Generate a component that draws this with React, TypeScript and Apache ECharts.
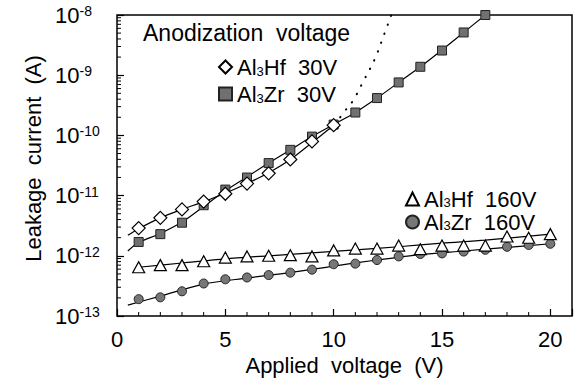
import React, { useEffect, useRef } from "react";
import * as echarts from "echarts";

const FONT = '"Liberation Sans", Arial, Helvetica, sans-serif';

// Measured points (x = applied voltage in V, y = log10 of leakage current in A)
const voltsHf30 = [1, 2, 3, 4, 5, 6, 7, 8, 9, 10];
const expHf30 = [-11.54, -11.37, -11.23, -11.1, -10.97, -10.8, -10.63, -10.4, -10.1, -9.83];

const voltsZr30 = [1, 2, 3, 4, 5, 6, 7, 8, 9, 10, 11, 12, 13, 14, 15, 16, 17];
const expZr30 = [-11.77, -11.64, -11.45, -11.16, -10.9, -10.7, -10.46, -10.24, -10.02, -9.82, -9.62, -9.38, -9.12, -8.86, -8.59, -8.29, -8.0];

const volts160 = [1, 2, 3, 4, 5, 6, 7, 8, 9, 10, 11, 12, 13, 14, 15, 16, 17, 18, 19, 20];
const expHf160 = [-12.19, -12.155, -12.155, -12.09, -12.03, -12.01, -12.0, -11.99, -12.01, -11.91, -11.88, -11.88, -11.83, -11.89, -11.83, -11.83, -11.83, -11.68, -11.7, -11.64];
const expZr160 = [-12.72, -12.69, -12.59, -12.46, -12.39, -12.36, -12.32, -12.28, -12.23, -12.14, -12.13, -12.07, -12.01, -11.97, -11.96, -11.93, -11.9, -11.85, -11.82, -11.8];

// Fitted curves drawn through the data
const fitHf30X = [0.5, 1, 2, 3, 4, 5, 6, 7, 8, 9, 10];
const fitHf30E = [-11.66, -11.55, -11.37, -11.23, -11.1, -10.96, -10.8, -10.62, -10.4, -10.12, -9.83];
const fitZr30X = [0.5, 1, 2, 3, 4, 5, 6, 7, 8, 9, 10, 11, 12, 13, 14, 15, 16, 17];
const fitZr30E = [-11.92, -11.78, -11.63, -11.44, -11.18, -10.92, -10.69, -10.46, -10.24, -10.02, -9.82, -9.62, -9.38, -9.12, -8.86, -8.58, -8.29, -8.0];
const fitHf160X = [1, 3, 5, 7, 9, 11, 13, 15, 17, 20];
const fitHf160E = [-12.19, -12.12, -12.05, -12.0, -11.95, -11.9, -11.85, -11.79, -11.74, -11.64];
const fitZr160X = [0.5, 2, 4, 6, 8, 10, 12, 14, 16, 18, 20];
const fitZr160E = [-12.82, -12.67, -12.47, -12.37, -12.28, -12.17, -12.07, -11.98, -11.92, -11.86, -11.8];
const dotX = [10.3, 10.43, 10.86, 11.4, 11.9, 12.27, 12.66];
const dotE = [-9.7, -9.63, -9.44, -9.08, -8.73, -8.38, -8.0];

// Axis ticks
const xTickLabels = [0, 5, 10, 15, 20];
const xMinorTicks = [1, 2, 3, 4, 6, 7, 8, 9, 11, 12, 13, 14, 16, 17, 18, 19];
const yDecades = [-13, -12, -11, -10, -9];
const yMinorMultipliers = [2, 3, 4, 5, 6, 7, 8, 9];

const pairs = (xs: number[], es: number[]) => xs.map((x, i) => [x, Math.pow(10, es[i])]);

const sub = (name: string) => {
  const m = name.match(/^Al3(\w+)\s+(\S+)$/);
  if (!m) return name;
  return `{a|Al}{s|3}{a|${m[1]}  ${m[2]}}`;
};

export default function App() {
  const ref = useRef<HTMLDivElement>(null);
  useEffect(() => {
    if (!ref.current) return;
    const chart = echarts.init(ref.current, undefined, { renderer: "svg" });

    const yMinor: number[][] = [];
    yDecades.forEach((d) => yMinorMultipliers.forEach((k) => yMinor.push([0, k * Math.pow(10, d)])));
    const xMinor = xMinorTicks.map((x) => [x, 1e-13]);

    const fitStyle = { color: "#000", width: 1.2 };
    const fitLine = (x: number[], e: number[]) => ({
      type: "line",
      data: pairs(x, e),
      symbol: "none",
      smooth: 0.3,
      silent: true,
      lineStyle: fitStyle,
      z: 2,
    });

    const legendText = (lh: number) => ({
      fontSize: 22,
      fontFamily: FONT,
      color: "#000",
      rich: {
        a: { fontSize: 22, fontFamily: FONT, color: "#000", lineHeight: lh },
        s: { fontSize: 13, fontFamily: FONT, color: "#000", lineHeight: 13, verticalAlign: "bottom" },
      },
    });

    chart.setOption({
      animation: false,
      backgroundColor: "#fff",
      grid: {
        left: 117,
        right: 8,
        top: 15,
        bottom: 69,
        show: true,
        borderColor: "#000",
        borderWidth: 1.5,
      },
      xAxis: {
        type: "value",
        min: 0,
        max: 21,
        interval: 5,
        axisLine: { show: false },
        splitLine: { show: false },
        axisTick: { inside: true, length: 7, lineStyle: { color: "#000", width: 1.2 } },
        axisLabel: {
          margin: 12,
          fontSize: 22,
          fontFamily: FONT,
          color: "#000",
          formatter: (v: number) => (xTickLabels.includes(v) ? String(v) : ""),
        },
        name: "Applied  voltage  (V)",
        nameLocation: "middle",
        nameGap: 35,
        nameTextStyle: { fontSize: 22, fontFamily: FONT, color: "#000" },
      },
      yAxis: {
        type: "log",
        logBase: 10,
        min: 1e-13,
        max: 1e-8,
        splitNumber: 5,
        axisLine: { show: false },
        splitLine: { show: false },
        axisTick: { inside: true, length: 7, lineStyle: { color: "#000", width: 1.2 } },
        axisLabel: {
          margin: 62,
          align: "left",
          formatter: (v: number) => `{b|10}{s|${Math.round(Math.log10(v))}}`,
          rich: {
            b: { fontSize: 22, fontFamily: FONT, color: "#000" },
            s: { fontSize: 14, fontFamily: FONT, color: "#000", verticalAlign: "top" },
          },
        },
        name: "Leakage  current  (A)",
        nameLocation: "middle",
        nameRotate: 90,
        nameGap: 68,
        nameTextStyle: { fontSize: 22, fontFamily: FONT, color: "#000", padding: [0, 0, 0, 14] },
      },
      legend: [
        {
          data: ["Al3Hf 30V", "Al3Zr 30V"],
          orient: "vertical",
          left: 213,
          top: 51,
          itemWidth: 13,
          itemHeight: 13,
          itemGap: 5,
          formatter: sub,
          textStyle: legendText(22),
          selectedMode: false,
        },
        {
          data: ["Al3Hf 160V", "Al3Zr 160V"],
          orient: "vertical",
          left: 400,
          top: 183,
          itemWidth: 13,
          itemHeight: 13,
          itemGap: 1,
          formatter: sub,
          textStyle: legendText(20),
          selectedMode: false,
        },
      ],
      graphic: [
        {
          type: "text",
          left: 143,
          top: 21,
          style: { text: "Anodization  voltage", fontSize: 23, fontFamily: FONT, fill: "#000" },
        },
      ],
      series: [
        fitLine(fitHf30X, fitHf30E),
        fitLine(fitZr30X, fitZr30E),
        fitLine(fitHf160X, fitHf160E),
        fitLine(fitZr160X, fitZr160E),
        {
          type: "line",
          data: pairs(dotX, dotE),
          symbol: "none",
          smooth: 0.4,
          silent: true,
          lineStyle: { color: "#000", width: 2, type: [0.5, 9], cap: "round" },
          z: 2,
        },
        {
          name: "Al3Hf 30V",
          type: "scatter",
          data: pairs(voltsHf30, expHf30),
          symbol: "diamond",
          symbolSize: 13,
          itemStyle: { color: "#fff", borderColor: "#000", borderWidth: 1.2, opacity: 1 },
          z: 4,
        },
        {
          name: "Al3Zr 30V",
          type: "scatter",
          data: pairs(voltsZr30, expZr30),
          symbol: "rect",
          symbolSize: 9,
          itemStyle: { color: "#707070", borderColor: "#222", borderWidth: 1, opacity: 1 },
          z: 3,
        },
        {
          name: "Al3Hf 160V",
          type: "scatter",
          data: pairs(volts160, expHf160),
          symbol: "triangle",
          symbolSize: [12, 11],
          itemStyle: { color: "#fff", borderColor: "#000", borderWidth: 1.2, opacity: 1 },
          z: 4,
        },
        {
          name: "Al3Zr 160V",
          type: "scatter",
          data: pairs(volts160, expZr160),
          symbol: "circle",
          symbolSize: 9,
          itemStyle: { color: "#777", borderColor: "#222", borderWidth: 1, opacity: 1 },
          z: 3,
        },
        {
          type: "custom",
          silent: true,
          data: yMinor,
          renderItem: (_p: any, api: any) => {
            const pt = api.coord([api.value(0), api.value(1)]);
            return {
              type: "line",
              shape: { x1: pt[0], y1: pt[1], x2: pt[0] + 4, y2: pt[1] },
              style: { stroke: "#000", lineWidth: 1 },
            };
          },
          z: 5,
        },
        {
          type: "custom",
          silent: true,
          data: xMinor,
          renderItem: (_p: any, api: any) => {
            const pt = api.coord([api.value(0), api.value(1)]);
            return {
              type: "line",
              shape: { x1: pt[0], y1: pt[1], x2: pt[0], y2: pt[1] - 4 },
              style: { stroke: "#000", lineWidth: 1 },
            };
          },
          z: 5,
        },
      ],
    });
    return () => chart.dispose();
  }, []);
  return <div ref={ref} style={{ width: 580, height: 385, position: "absolute", left: 0, top: 0 }} />;
}
